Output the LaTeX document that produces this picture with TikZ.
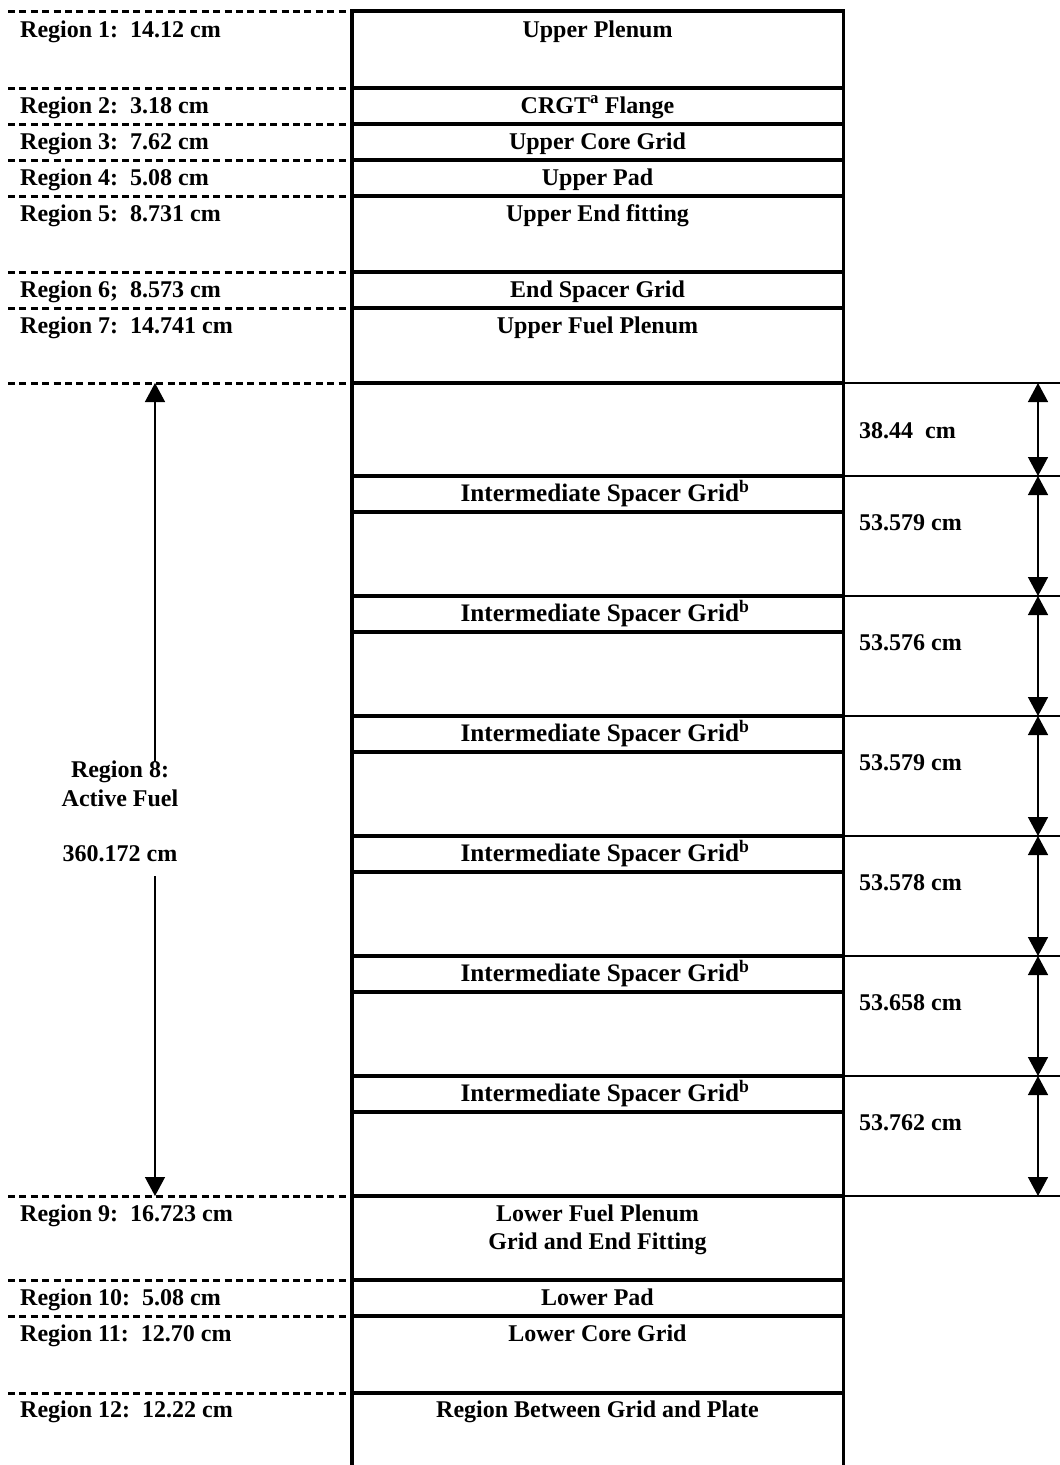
\documentclass[tikz,border=0pt]{standalone}
\usepackage{fontspec}
\setmainfont{Liberation Serif}
\usetikzlibrary{arrows.meta}
\begin{document}
\begin{tikzpicture}[x=1pt,y=-1pt,
  lbl/.style={font=\bfseries\fontsize{24}{27}\selectfont, inner sep=0pt},
  lblwide/.style={font=\bfseries\fontsize{25.2}{27}\selectfont, inner sep=0pt},
  colline/.style={line width=3.5pt},
  dashline/.style={line width=3pt, dash pattern=on 7pt off 4.4pt},
  thinline/.style={line width=1.2pt},
  dimarrow/.style={line width=1.4pt, {Triangle[length=19pt,width=20pt]}-{Triangle[length=19pt,width=20pt]}},
  onearrow/.style={line width=1.4pt, -{Triangle[length=19pt,width=20pt]}}]
\useasboundingbox (0,0) rectangle (1060,1465);
% column
\coordinate (cTL) at (352,11);
\coordinate (cTR) at (843.5,11);
\coordinate (cBL) at (352,1465);
\coordinate (cBR) at (843.5,1465);
\draw[colline] (cBL) -- (cTL) -- (cTR) -- (cBR);
\foreach \yy in {88,124,160,196,272,308,383,476,512,596,632,716,752,836,872,956,992,1076,1112,1196,1280,1316,1393}{
  \draw[colline] (352,\yy) -- (843.5,\yy);
}
% dashed region boundaries
\foreach \yy in {11,88,124,160,196,272,308,383,1196,1280,1316,1393}{
  \draw[dashline] (8,\yy) -- (350,\yy);
}
% thin dimension lines
\foreach \yy in {383,476,596,716,836,956,1076,1196}{
  \draw[thinline] (845,\yy) -- (1060,\yy);
}
% left labels
\node[lbl, anchor=base west] (r1) at (20,37) {Region 1:\ \ 14.12 cm};
\node[lbl, anchor=base west] (r2) at (20,113) {Region 2:\ \ 3.18 cm};
\node[lbl, anchor=base west] (r3) at (20,149) {Region 3:\ \ 7.62 cm};
\node[lbl, anchor=base west] (r4) at (20,185) {Region 4:\ \ 5.08 cm};
\node[lbl, anchor=base west] (r5) at (20,221) {Region 5:\ \ 8.731 cm};
\node[lbl, anchor=base west] (r6) at (20,297) {Region 6;\ \ 8.573 cm};
\node[lbl, anchor=base west] (r7) at (20,333) {Region 7:\ \ 14.741 cm};
\node[lbl, anchor=base west] (r9) at (20,1221) {Region 9:\ \ 16.723 cm};
\node[lbl, anchor=base west] (r10) at (20,1305) {Region 10:\ \ 5.08 cm};
\node[lbl, anchor=base west] (r11) at (20,1341) {Region 11:\ \ 12.70 cm};
\node[lbl, anchor=base west] (r12) at (20,1417) {Region 12:\ \ 12.22 cm};
% region 8
\node[lbl, anchor=base] (r8a) at (120,777) {Region 8:};
\node[lbl, anchor=base] (r8b) at (120,806) {Active Fuel};
\node[lbl, anchor=base] (r8c) at (120,861) {360.172 cm};
\coordinate (a8top) at (155,383);
\coordinate (a8up) at (155,762);
\coordinate (a8dn) at (155,876);
\coordinate (a8bot) at (155,1196);
\draw[onearrow] (a8up) -- (a8top);
\draw[onearrow] (a8dn) -- (a8bot);
% column labels
\node[lbl, anchor=base] (c1) at (597.5,37) {Upper Plenum};
\node[lbl, anchor=base] (c2) at (597.5,113) {CRGT\textsuperscript{a} Flange};
\node[lbl, anchor=base] (c3) at (597.5,149) {Upper Core Grid};
\node[lbl, anchor=base] (c4) at (597.5,185) {Upper Pad};
\node[lbl, anchor=base] (c5) at (597.5,221) {Upper End fitting};
\node[lbl, anchor=base] (c6) at (597.5,297) {End Spacer Grid};
\node[lbl, anchor=base] (c7) at (597.5,333) {Upper Fuel Plenum};
\foreach \yy [count=\i] in {476,596,716,836,956,1076}{
  \node[lblwide, anchor=base] (isg\i) at (605,\yy+25.5) {Intermediate Spacer Grid\textsuperscript{b}};
}
\node[lbl, anchor=base] (c9a) at (597.5,1221) {Lower Fuel Plenum};
\node[lbl, anchor=base] (c9b) at (597.5,1249) {Grid and End Fitting};
\node[lbl, anchor=base] (c10) at (597.5,1305) {Lower Pad};
\node[lbl, anchor=base] (c11) at (597.5,1341) {Lower Core Grid};
\node[lbl, anchor=base] (c12) at (597.5,1417) {Region Between Grid and Plate};
% right dimension labels and arrows
\node[lbl, anchor=base west] (d1) at (859,438) {38.44\ \ cm};
\node[lbl, anchor=base west] (d2) at (859,530) {53.579 cm};
\node[lbl, anchor=base west] (d3) at (859,650) {53.576 cm};
\node[lbl, anchor=base west] (d4) at (859,770) {53.579 cm};
\node[lbl, anchor=base west] (d5) at (859,890) {53.578 cm};
\node[lbl, anchor=base west] (d6) at (859,1010) {53.658 cm};
\node[lbl, anchor=base west] (d7) at (859,1130) {53.762 cm};
\foreach \ya/\yb [count=\i] in {383/476,476/596,596/716,716/836,836/956,956/1076,1076/1196}{
  \coordinate (dt\i) at (1038,\ya);
  \coordinate (db\i) at (1038,\yb);
  \draw[dimarrow] (dt\i) -- (db\i);
}
\end{tikzpicture}
\end{document}
